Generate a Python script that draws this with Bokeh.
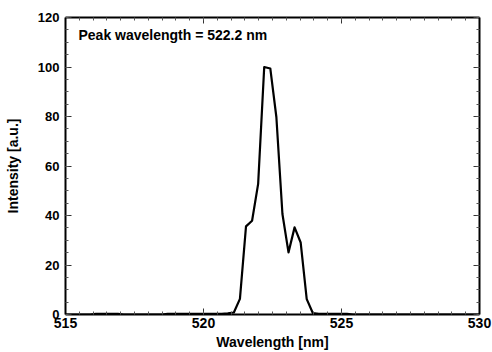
from bokeh.plotting import figure
from bokeh.models import Range1d, LinearAxis, Label, SingleIntervalTicker, CustomJSTickFormatter
from bokeh.embed import file_html
from bokeh.resources import INLINE

# Spectrum
wavelength = [515.00, 515.90, 516.10, 516.90, 517.10, 518.50, 518.70, 520.66, 520.88,
              521.10, 521.32, 521.54, 521.76, 521.98, 522.20, 522.42, 522.64, 522.86,
              523.08, 523.30, 523.52, 523.74, 523.96, 524.18, 524.40, 525.20, 525.42, 530.00]
intensity = [0.0, 0.0, 0.3, 0.3, 0.0, 0.0, 0.3, 0.3, 0.5,
             0.8, 6.3, 35.6, 37.9, 52.8, 100.0, 99.4, 79.8, 40.6,
             25.1, 35.2, 29.1, 6.2, 0.6, 0.3, 0.3, 0.3, 0.0, 0.0]
x_range = (515, 530)
y_range = (0, 120)
x_label = "Wavelength [nm]"
y_label = "Intensity [a.u.]"
peak_text = "Peak wavelength = 522.2 nm"

FONT = "Liberation Sans"

p = figure(width=492, height=352, output_backend="svg", toolbar_location=None,
           x_range=Range1d(*x_range), y_range=Range1d(*y_range),
           x_axis_type=None, y_axis_type=None,
           min_border_left=65, min_border_right=13, min_border_top=17, min_border_bottom=38)
p.outline_line_color = None
p.background_fill_color = "white"
p.border_fill_color = "white"


def style(ax, labels=True):
    ax.axis_line_color = "black"
    ax.axis_line_width = 2
    ax.major_tick_in = 6
    ax.major_tick_out = 0
    ax.minor_tick_in = 3
    ax.minor_tick_out = 0
    ax.major_tick_line_width = 1
    ax.minor_tick_line_width = 1
    ax.major_tick_line_color = "#333333"
    ax.minor_tick_line_color = "#555555"
    if labels:
        ax.major_label_text_font = FONT
        ax.major_label_text_font_style = "bold"
        ax.major_label_text_color = "black"
        ax.axis_label_text_font = FONT
        ax.axis_label_text_font_style = "bold"
        ax.axis_label_text_font_size = "14px"
        ax.axis_label_text_color = "black"
    else:
        ax.formatter = CustomJSTickFormatter(code="return ''")
        ax.major_label_text_font_size = "1px"
        ax.major_label_standoff = 0


xt = SingleIntervalTicker(interval=5, num_minor_ticks=10)
yt = SingleIntervalTicker(interval=20, num_minor_ticks=4)

xb = LinearAxis(ticker=xt, axis_label=x_label)
style(xb)
xb.major_label_text_font_size = "14px"
xb.major_label_standoff = 3
xb.axis_label_standoff = 3
p.add_layout(xb, "below")

yl = LinearAxis(ticker=yt, axis_label=y_label)
style(yl)
yl.major_label_text_font_size = "13px"
yl.major_label_standoff = 6
yl.axis_label_standoff = 14
p.add_layout(yl, "left")

xa = LinearAxis(ticker=SingleIntervalTicker(interval=5, num_minor_ticks=10))
style(xa, labels=False)
p.add_layout(xa, "above")

yr = LinearAxis(ticker=SingleIntervalTicker(interval=20, num_minor_ticks=4))
style(yr, labels=False)
p.add_layout(yr, "right")

p.line(wavelength, intensity, line_color="black", line_width=2.2, line_join="round")

p.add_layout(Label(x=515.47, y=113, text=peak_text, text_font=FONT,
                   text_font_style="bold", text_font_size="14px",
                   text_color="black", text_baseline="middle", text_align="left"))

open("out.html", "w").write(file_html(p, INLINE))
